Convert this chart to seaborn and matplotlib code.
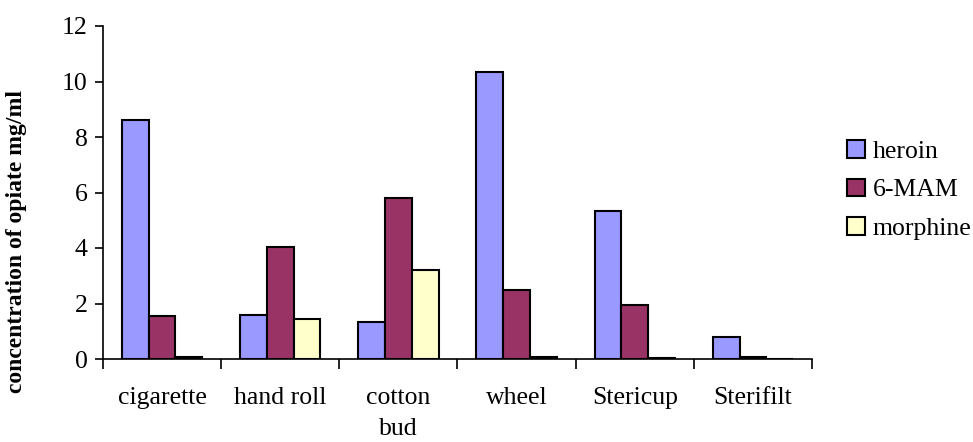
import numpy as np
import pandas as pd
import matplotlib
matplotlib.use('Agg')
import matplotlib.pyplot as plt
import seaborn as sns

# data
categories = ['cigarette', 'hand roll', 'cotton\nbud', 'wheel', 'Stericup', 'Sterifilt']
heroin     = [8.6, 1.6, 1.35, 10.35, 5.35, 0.8]
mam6       = [1.55, 4.05, 5.8, 2.5, 1.95, 0.08]
morphine   = [0.08, 1.45, 3.2, 0.08, 0.05, 0.0]
series     = ['heroin', '6-MAM', 'morphine']
colors     = ['#9999FF', '#993366', '#FFFFCC']

df = pd.DataFrame({
    'category': categories * 3,
    'opiate': np.repeat(series, len(categories)),
    'value': heroin + mam6 + morphine,
})

sns.set_style('white')
plt.rcParams['font.family'] = ['Liberation Serif', 'DejaVu Serif']
plt.rcParams['text.color'] = 'black'
plt.rcParams['xtick.color'] = 'black'
plt.rcParams['ytick.color'] = 'black'
plt.rcParams['axes.labelcolor'] = 'black'

fig = plt.figure(figsize=(9.73, 4.42), dpi=100)
ax = fig.add_axes([103 / 973, 1 - 359 / 442, (812 - 103) / 973, (359 - 26) / 442])

sns.barplot(data=df, x='category', y='value', hue='opiate', hue_order=series,
            order=categories, palette=colors, width=0.68, edgecolor='black',
            linewidth=1.5, saturation=1, ax=ax)

ax.set_xlim(-0.5, len(categories) - 0.5)
ax.set_ylim(0, 12)
ax.set_yticks(np.arange(0, 13, 2))
ax.tick_params(axis='y', labelsize=18.5, length=6, width=1.2, direction='out', left=True, pad=5)

# Excel style: tick marks between categories, labels at centres
ax.set_xticks(np.arange(-0.5, len(categories)), minor=False)
ax.set_xticklabels([])
ax.set_xticks(np.arange(len(categories)), minor=True)
ax.set_xticklabels(categories, minor=True, fontsize=18.5, linespacing=1.55)
ax.tick_params(axis='x', which='major', length=7, width=1.2, direction='out', bottom=True)
ax.tick_params(axis='x', which='minor', length=0, pad=20)

ax.set_xlabel('')
ax.set_ylabel('concentration of opiate mg/ml', fontsize=17, fontweight='bold')
ax.yaxis.set_label_coords(-0.107, 0.354)

for s in ['top', 'right']:
    ax.spines[s].set_visible(False)
for s in ['left', 'bottom']:
    ax.spines[s].set_color('black')
    ax.spines[s].set_linewidth(1.2)

ax.legend(loc='center left', bbox_to_anchor=(847 / 973, 1 - 190 / 442),
          bbox_transform=fig.transFigure, frameon=False, fontsize=18.5,
          borderpad=0, borderaxespad=0,
          handlelength=0.7, handleheight=0.7, handletextpad=0.3, labelspacing=0.6)

fig.savefig('out.png', dpi=100)
